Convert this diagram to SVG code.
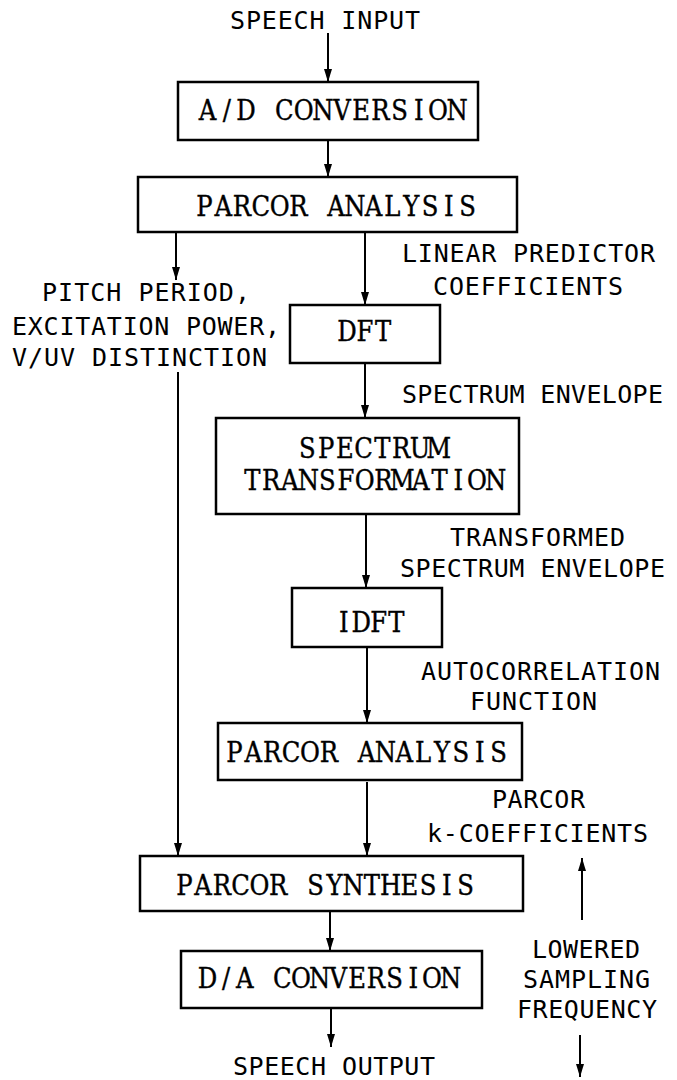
<svg xmlns="http://www.w3.org/2000/svg" width="677" height="1080" viewBox="0 0 677 1080">
  <style>
    .box { fill: #fff; stroke: #000; stroke-width: 2.5; }
    /* typewriter-style block captions: one glyph per fixed-pitch cell */
    .btxt { font-family: "DejaVu Serif", "Liberation Serif", serif; font-stretch: condensed; font-size: 27px; fill: #000; stroke: #000; stroke-width: 0.35; text-anchor: middle; }
    .lbl { font-family: "DejaVu Sans Mono", "Liberation Mono", monospace; font-size: 25px; fill: #000; }
    .edge { stroke: #000; stroke-width: 2; fill: none; marker-end: url(#arrow); }
  </style>
  <defs>
    <marker id="arrow" markerUnits="userSpaceOnUse" viewBox="0 0 13 8" markerWidth="13" markerHeight="8" refX="13" refY="4" orient="auto">
      <path d="M0,0 L13,4 L0,8 Z" fill="#000"/>
    </marker>
  </defs>
  <rect width="677" height="1080" fill="#fff"/>

  <!-- connectors -->
  <g id="connectors">
    <line class="edge" x1="328" y1="33" x2="328" y2="82"/>
    <line class="edge" x1="328" y1="140" x2="328" y2="177"/>
    <line class="edge" x1="176" y1="232" x2="176" y2="280"/>
    <line class="edge" x1="365" y1="232" x2="365" y2="305"/>
    <line class="edge" x1="178" y1="372" x2="178" y2="856"/>
    <line class="edge" x1="365" y1="363" x2="365" y2="418"/>
    <line class="edge" x1="366" y1="514" x2="366" y2="588"/>
    <line class="edge" x1="367" y1="647" x2="367" y2="723"/>
    <line class="edge" x1="367" y1="782" x2="367" y2="856"/>
    <line class="edge" x1="330" y1="911" x2="330" y2="951"/>
    <line class="edge" x1="331" y1="1008" x2="331" y2="1047"/>
    <line class="edge" x1="582" y1="920" x2="582" y2="858"/>
    <line class="edge" x1="580" y1="1035" x2="580" y2="1077"/>
  </g>

  <!-- process blocks -->
  <g id="ad-conversion">
    <rect class="box" x="178" y="82" width="300" height="58"/>
    <text class="btxt" x="207.6 226.8 246 265.2 284.4 303.6 322.8 342 361.2 380.4 399.6 418.8 438 457.2" y="120">A/D CONVERSION</text>
  </g>
  <g id="parcor-analysis-1">
    <rect class="box" x="138" y="177" width="379" height="55"/>
    <text class="btxt" x="204.4 223.2 242 260.8 279.6 298.4 317.2 336 354.8 373.6 392.4 411.2 430 448.8 467.6" y="216">PARCOR ANALYSIS</text>
  </g>
  <g id="dft">
    <rect class="box" x="290" y="305" width="150" height="58"/>
    <text class="btxt" x="347 365 383" y="341">DFT</text>
  </g>
  <g id="spectrum-transformation">
    <rect class="box" x="216" y="418" width="303" height="96"/>
    <text class="btxt" x="307.4 326.1 344.9 363.6 382.4 401.1 419.9 438.6" y="458">SPECTRUM</text>
    <text class="btxt" x="252.4 271.1 289.8 308.5 327.2 345.9 364.7 383.4 402.1 420.8 439.5 458.2 476.9 495.6" y="490">TRANSFORMATION</text>
  </g>
  <g id="idft">
    <rect class="box" x="292" y="588" width="150" height="59"/>
    <text class="btxt" x="343.8 361.3 378.8 396.3" y="632">IDFT</text>
  </g>
  <g id="parcor-analysis-2">
    <rect class="box" x="218" y="723" width="304" height="57"/>
    <text class="btxt" x="234.4 253.3 272.2 291 309.9 328.8 347.6 366.5 385.4 404.2 423.1 442 460.8 479.7 498.6" y="762">PARCOR ANALYSIS</text>
  </g>
  <g id="parcor-synthesis">
    <rect class="box" x="140" y="856" width="383" height="55"/>
    <text class="btxt" x="184.4 203.1 221.9 240.6 259.4 278.1 296.9 315.6 334.4 353.1 371.9 390.6 409.4 428.1 446.9 465.6" y="895">PARCOR SYNTHESIS</text>
  </g>
  <g id="da-conversion">
    <rect class="box" x="181" y="951" width="301" height="57"/>
    <text class="btxt" x="207.4 226.1 244.8 263.5 282.2 300.9 319.6 338.4 357.1 375.8 394.5 413.2 431.9 450.6" y="988">D/A CONVERSION</text>
  </g>

  <!-- signal labels -->
  <g id="labels">
    <text class="lbl" x="230" y="29" textLength="190" lengthAdjust="spacing">SPEECH INPUT</text>
    <text class="lbl" x="42" y="301" textLength="208" lengthAdjust="spacing">PITCH PERIOD,</text>
    <text class="lbl" x="12" y="335" textLength="268" lengthAdjust="spacing">EXCITATION POWER,</text>
    <text class="lbl" x="12" y="366" textLength="255" lengthAdjust="spacing">V/UV DISTINCTION</text>
    <text class="lbl" x="402" y="262" textLength="253" lengthAdjust="spacing">LINEAR PREDICTOR</text>
    <text class="lbl" x="433" y="295" textLength="190" lengthAdjust="spacing">COEFFICIENTS</text>
    <text class="lbl" x="402" y="403" textLength="261" lengthAdjust="spacing">SPECTRUM ENVELOPE</text>
    <text class="lbl" x="450" y="546" textLength="175" lengthAdjust="spacing">TRANSFORMED</text>
    <text class="lbl" x="400" y="577" textLength="265" lengthAdjust="spacing">SPECTRUM ENVELOPE</text>
    <text class="lbl" x="421" y="680" textLength="239" lengthAdjust="spacing">AUTOCORRELATION</text>
    <text class="lbl" x="470" y="710" textLength="127" lengthAdjust="spacing">FUNCTION</text>
    <text class="lbl" x="492" y="808" textLength="93" lengthAdjust="spacing">PARCOR</text>
    <text class="lbl" x="427" y="842" textLength="221" lengthAdjust="spacing">k-COEFFICIENTS</text>
    <text class="lbl" x="532" y="958" textLength="108" lengthAdjust="spacing">LOWERED</text>
    <text class="lbl" x="523" y="988" textLength="127" lengthAdjust="spacing">SAMPLING</text>
    <text class="lbl" x="517" y="1018" textLength="140" lengthAdjust="spacing">FREQUENCY</text>
    <text class="lbl" x="233" y="1075" textLength="202" lengthAdjust="spacing">SPEECH OUTPUT</text>
  </g>
</svg>
